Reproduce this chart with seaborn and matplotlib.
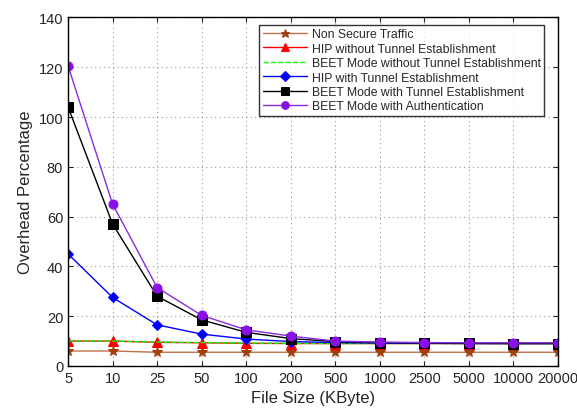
import numpy as np
import pandas as pd
import matplotlib
matplotlib.use("Agg")
import matplotlib.pyplot as plt
import seaborn as sns

# file sizes (KByte) on the x axis, evenly spaced categories
file_sizes = ["5", "10", "25", "50", "100", "200", "500", "1000", "2500", "5000", "10000", "20000"]

non_secure = [6.0, 6.0, 5.5, 5.5, 5.5, 5.5, 5.5, 5.5, 5.5, 5.5, 5.5, 5.5]
hip_no_tunnel = [10.0, 10.0, 9.5, 9.3, 9.1, 9.0, 9.0, 9.0, 9.0, 9.0, 9.0, 9.0]
beet_no_tunnel = [10.0, 10.0, 9.6, 9.4, 9.2, 9.1, 9.0, 9.0, 9.0, 9.0, 9.0, 9.0]
hip_tunnel = [45.0, 27.5, 16.5, 12.8, 10.8, 9.8, 9.4, 9.2, 9.1, 9.0, 9.0, 9.0]
beet_tunnel = [104.0, 57.0, 28.0, 18.5, 13.5, 11.0, 9.8, 9.4, 9.2, 9.1, 9.0, 9.0]
beet_auth = [120.5, 65.0, 31.5, 20.3, 14.5, 12.0, 10.0, 9.6, 9.4, 9.3, 9.3, 9.3]

series_names = [
    "Non Secure Traffic",
    "HIP without Tunnel Establishment",
    "BEET Mode without Tunnel Establishment",
    "HIP with Tunnel Establishment",
    "BEET Mode with Tunnel Establishment",
    "BEET Mode with Authentication",
]
series_values = [non_secure, hip_no_tunnel, beet_no_tunnel, hip_tunnel, beet_tunnel, beet_auth]

# style per series: line colour, marker, marker colour, linestyle
styles = [
    ("#c0704a", "*", "#a0400f", "-"),
    ("#ff0000", "^", "#ff0000", "-"),
    ("#00ff00", "", "#00ff00", "--"),
    ("#0000ff", "D", "#0000ff", "-"),
    ("#000000", "s", "#000000", "-"),
    ("#8a2be2", "o", "#8a10e8", "-"),
]

rows = []
for name, vals in zip(series_names, series_values):
    for i, v in enumerate(vals):
        rows.append({"pos": i, "size": file_sizes[i], "series": name, "overhead": v})
df = pd.DataFrame(rows)

sns.set_style("ticks")
plt.rcParams["font.family"] = ["Liberation Sans", "DejaVu Sans"]

fig, ax = plt.subplots(figsize=(5.77, 4.10), dpi=100)

for name, (lc, mk, mc, ls) in zip(series_names, styles):
    sub = df[df["series"] == name]
    ms = 7.5 if mk == "*" else (5.5 if mk == "D" else 6.5)
    sns.lineplot(
        data=sub, x="pos", y="overhead", ax=ax, label=name,
        color=lc, linestyle=ls, linewidth=1.0,
        marker=mk if mk else None, markersize=ms,
        markerfacecolor=mc, markeredgecolor=mc,
    )

ax.set_xlim(0, len(file_sizes) - 1)
ax.set_ylim(0, 140)
ax.set_xticks(range(len(file_sizes)))
ax.set_xticklabels(file_sizes)
ax.set_yticks(range(0, 141, 20))
ax.set_xlabel("File Size (KByte)", fontsize=12)
ax.set_ylabel("Overhead Percentage", fontsize=12)
ax.tick_params(direction="in", top=True, right=True, labelsize=10.5)
ax.grid(True, linestyle=(0, (1, 3)), color="#999999", linewidth=0.8)
for s in ax.spines.values():
    s.set_linewidth(1.0)
    s.set_color("black")

leg = ax.legend(loc="upper right", fontsize=8.8, frameon=True, fancybox=False,
                borderpad=0.3, labelspacing=0.2, handlelength=3.6,
                handletextpad=0.4, borderaxespad=0.3, markerscale=0.85,
                bbox_to_anchor=(0.98, 0.99))
leg.get_frame().set_edgecolor("black")
leg.get_frame().set_linewidth(1.0)

fig.subplots_adjust(left=0.118, right=0.967, top=0.955, bottom=0.105)
fig.savefig("out.png", dpi=100)
